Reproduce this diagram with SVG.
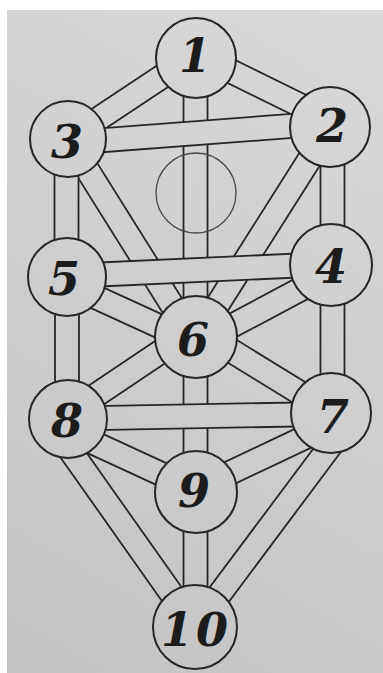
<svg xmlns="http://www.w3.org/2000/svg" width="383" height="673" viewBox="0 0 383 673">
<defs>
<linearGradient id="paper" gradientUnits="userSpaceOnUse" x1="7" y1="673" x2="383" y2="10">
<stop offset="0" stop-color="#c3c3c3"/>
<stop offset="1" stop-color="#d9d9d9"/>
</linearGradient>
</defs>
<style>
.e{stroke:#262626;stroke-width:25.8;stroke-linecap:butt;}
.f{stroke:url(#paper);stroke-width:22.2;stroke-linecap:butt;}
.node circle{fill:url(#paper);stroke:#262626;stroke-width:2;}
.node text{font-family:"DejaVu Serif",serif;font-weight:bold;font-style:italic;font-size:46px;fill:#1c1c1c;text-anchor:middle;}
</style>
<rect x="0" y="0" width="383" height="673" fill="#ffffff"/>
<rect x="7" y="10" width="376" height="663" fill="url(#paper)"/>
<g id="connectors">
<g id="p1-3"><line class="e" x1="68" y1="139" x2="196" y2="54"/><line class="f" x1="68" y1="139" x2="196" y2="54"/></g>
<g id="p1-2"><line class="e" x1="196" y1="54" x2="330" y2="120"/><line class="f" x1="196" y1="54" x2="330" y2="120"/></g>
<g id="p2-6"><line class="e" x1="330" y1="127" x2="197" y2="337"/><line class="f" x1="330" y1="127" x2="197" y2="337"/></g>
<g id="p3-6"><line class="e" x1="68" y1="139" x2="192" y2="337"/><line class="f" x1="68" y1="139" x2="192" y2="337"/></g>
<g id="p4-6"><line class="e" x1="331" y1="273" x2="196" y2="345"/><line class="f" x1="331" y1="273" x2="196" y2="345"/></g>
<g id="p5-6"><line class="e" x1="67" y1="284" x2="196" y2="343"/><line class="f" x1="67" y1="284" x2="196" y2="343"/></g>
<g id="p6-8"><line class="e" x1="196" y1="328" x2="68" y2="414"/><line class="f" x1="196" y1="328" x2="68" y2="414"/></g>
<g id="p6-7"><line class="e" x1="196" y1="329" x2="331" y2="412"/><line class="f" x1="196" y1="329" x2="331" y2="412"/></g>
<g id="p8-9"><line class="e" x1="68" y1="431" x2="196" y2="490"/><line class="f" x1="68" y1="431" x2="196" y2="490"/></g>
<g id="p7-9"><line class="e" x1="331" y1="425" x2="196" y2="489"/><line class="f" x1="331" y1="425" x2="196" y2="489"/></g>
<g id="p8-10"><line class="e" x1="48" y1="419" x2="195" y2="627"/><line class="f" x1="48" y1="419" x2="195" y2="627"/></g>
<g id="p7-10"><line class="e" x1="355" y1="413" x2="195" y2="627"/><line class="f" x1="355" y1="413" x2="195" y2="627"/></g>
<g id="p1-6"><line class="e" x1="195.5" y1="58" x2="195.5" y2="337"/><line class="f" x1="195.5" y1="58" x2="195.5" y2="337"/></g>
<g id="p6-9"><line class="e" x1="195.5" y1="337" x2="195.5" y2="492"/><line class="f" x1="195.5" y1="337" x2="195.5" y2="492"/></g>
<g id="p9-10"><line class="e" x1="195.5" y1="492" x2="195.5" y2="627"/><line class="f" x1="195.5" y1="492" x2="195.5" y2="627"/></g>
<g id="p3-5"><line class="e" x1="66.5" y1="139" x2="66.5" y2="277"/><line class="f" x1="66.5" y1="139" x2="66.5" y2="277"/></g>
<g id="p5-8"><line class="e" x1="67" y1="277" x2="67" y2="419"/><line class="f" x1="67" y1="277" x2="67" y2="419"/></g>
<g id="p2-4"><line class="e" x1="332.5" y1="127" x2="332.5" y2="265"/><line class="f" x1="332.5" y1="127" x2="332.5" y2="265"/></g>
<g id="p4-7"><line class="e" x1="332.5" y1="265" x2="332.5" y2="413"/><line class="f" x1="332.5" y1="265" x2="332.5" y2="413"/></g>
<g id="p2-3"><line class="e" x1="68" y1="142.8" x2="330" y2="123"/><line class="f" x1="68" y1="142.8" x2="330" y2="123"/></g>
<g id="p4-5"><line class="e" x1="67" y1="276" x2="331" y2="264"/><line class="f" x1="67" y1="276" x2="331" y2="264"/></g>
<g id="p7-8"><line class="e" x1="68" y1="418.7" x2="331" y2="413.8"/><line class="f" x1="68" y1="418.7" x2="331" y2="413.8"/></g>
</g>
<g id="daat"><circle cx="196" cy="193" r="40" fill="none" stroke="#4a4a4a" stroke-width="1.3"/></g>
<g id="n1" class="node"><circle cx="196" cy="58" r="40"/><text x="195" y="72">1</text></g>
<g id="n2" class="node"><circle cx="330" cy="127" r="40"/><text x="332" y="142">2</text></g>
<g id="n3" class="node"><circle cx="68" cy="139" r="38"/><text x="67" y="158">3</text></g>
<g id="n4" class="node"><circle cx="331" cy="265" r="41"/><text x="331" y="283">4</text></g>
<g id="n5" class="node"><circle cx="67" cy="277" r="39"/><text x="64" y="295">5</text></g>
<g id="n6" class="node"><circle cx="196" cy="337" r="41"/><text x="193" y="356">6</text></g>
<g id="n7" class="node"><circle cx="331" cy="413" r="40"/><text x="333" y="433">7</text></g>
<g id="n8" class="node"><circle cx="68" cy="419" r="39"/><text x="67" y="437">8</text></g>
<g id="n9" class="node"><circle cx="196" cy="492" r="41"/><text x="194" y="507">9</text></g>
<g id="n10" class="node"><circle cx="195" cy="627" r="42"/><text x="196" y="646" letter-spacing="3">10</text></g>
</svg>
